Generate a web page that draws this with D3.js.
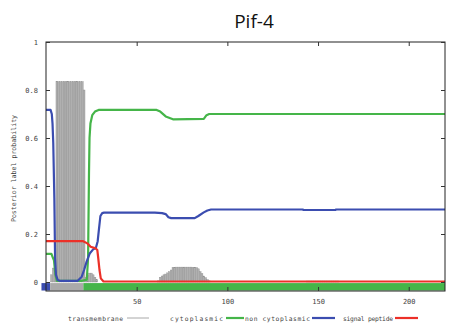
<!DOCTYPE html>
<html>
<head>
<meta charset="utf-8">
<script src="https://cdn.jsdelivr.net/npm/d3@7/dist/d3.min.js"></script>
<style>
  html, body { margin: 0; padding: 0; background: #fff; }
  svg { display: block; }
</style>
</head>
<body>
<svg id="chart" width="449" height="325"></svg>
<script>
// Phobius posterior label probabilities for Pif-4

const title = "Pif-4";

// Transmembrane: per-residue impulse heights (residues not listed are 0)
const tmResidue = [3, 4, 5, 6, 7, 8, 9, 10, 11, 12, 13, 14, 15, 16, 17, 18, 19, 20, 21,
  22, 23, 24, 25, 26, 27, 28,
  62, 63, 64, 65, 66, 67, 68, 69, 70, 71, 72, 73, 74, 75, 76, 77, 78, 79, 80, 81, 82, 83,
  84, 85, 86, 87, 88, 89, 90,
  144, 145, 146, 147, 148, 149, 150, 151, 152, 153, 154, 155, 156, 157, 158, 159, 160, 161];
const tmValue = [0.03, 0.058, 0.06, 0.835, 0.835, 0.835, 0.835, 0.835, 0.835, 0.835, 0.835,
  0.835, 0.835, 0.835, 0.835, 0.835, 0.835, 0.835, 0.80,
  0.02, 0.03, 0.037, 0.037, 0.03, 0.02, 0.01,
  0.005, 0.02, 0.025, 0.03, 0.033, 0.038, 0.043, 0.05, 0.061, 0.061, 0.062, 0.062, 0.062,
  0.062, 0.062, 0.062, 0.062, 0.062, 0.062, 0.061, 0.061, 0.06,
  0.055, 0.043, 0.035, 0.025, 0.018, 0.01, 0.005,
  0.004, 0.004, 0.004, 0.004, 0.004, 0.004, 0.004, 0.004, 0.004, 0.004, 0.004, 0.004,
  0.004, 0.004, 0.004, 0.004, 0.004, 0.004];

// Green curve (legend: cytoplasmic)
const cytoX = [0, 3, 3.6, 4.4, 5.2, 6, 20, 22.5, 23.2, 23.7, 24, 24.5, 25.5, 27, 29,
  61, 63, 66, 70, 87, 88.5, 90, 220];
const cytoY = [0.117, 0.117, 0.105, 0.09, 0.03, 0.005, 0.005, 0.01, 0.1, 0.45, 0.6, 0.66,
  0.695, 0.71, 0.717, 0.717, 0.71, 0.69, 0.678, 0.68, 0.695, 0.70, 0.70];

// Blue curve (legend: non cytoplasmic)
const nonCytoX = [0, 2.5, 3.2, 3.6, 4.0, 4.6, 5.0, 5.5, 6.5, 7.5, 17.5, 19.7, 21, 22.4,
  24.2, 26, 27.5, 28.5, 29.2, 30, 31, 32, 60, 64, 66, 67.5, 69, 82, 84, 87, 89, 91,
  141.5, 142, 159.5, 160, 220];
const nonCytoY = [0.717, 0.717, 0.70, 0.66, 0.58, 0.35, 0.1, 0.03, 0.008, 0.005, 0.005,
  0.022, 0.05, 0.085, 0.12, 0.136, 0.142, 0.17, 0.22, 0.275, 0.287, 0.289, 0.289, 0.287,
  0.283, 0.27, 0.266, 0.266, 0.275, 0.29, 0.298, 0.302, 0.302, 0.3, 0.3, 0.302, 0.302];

// Red curve (legend: signal peptide)
const signalX = [0, 20.5, 22.8, 24.6, 27.4, 28.3, 28.8, 29.5, 30.2, 31.7, 220];
const signalY = [0.17, 0.17, 0.161, 0.147, 0.14, 0.133, 0.1, 0.05, 0.015, 0.002, 0.002];

// Predicted topology strip below the axis
const stripStart = [-2.5, 2.3, 20.6];
const stripEnd = [2.3, 20.6, 220];
const stripState = ["non cytoplasmic", "transmembrane", "cytoplasmic"];

const xTicks = [50, 100, 150, 200];
const yTicks = [0, 0.2, 0.4, 0.6, 0.8, 1];
const legendLabels = ["transmembrane", "cytoplasmic", "non cytoplasmic", "signal peptide"];

const colors = {
  "transmembrane": "#a8a8a8",
  "cytoplasmic": "#45b549",
  "non cytoplasmic": "#3b4db0",
  "signal peptide": "#ec3028"
};

const svg = d3.select("#chart");
const plotLeft = 46, plotRight = 445, plotTop = 42, plotBottom = 291;

const x = d3.scaleLinear().domain([0, 220]).range([plotLeft, plotRight]);
const y = d3.scaleLinear().domain([-0.0375, 1]).range([plotBottom, plotTop]);

const monoFont = "'DejaVu Sans Mono', 'Liberation Mono', monospace";
const textColor = "#444";

// Title
svg.append("text")
  .attr("x", 254).attr("y", 28)
  .attr("text-anchor", "middle")
  .attr("font-family", "'Open Sans', 'Noto Sans', sans-serif")
  .attr("font-size", 19)
  .attr("fill", "#111")
  .text(title);

const plot = svg.append("g");

// Transmembrane impulses
const barW = x(1) - x(0);
plot.append("g").selectAll("rect")
  .data(tmResidue.map((r, i) => ({ r, v: tmValue[i] })))
  .join("rect")
  .attr("x", d => x(d.r) - barW / 2)
  .attr("width", barW)
  .attr("y", d => y(d.v))
  .attr("height", d => y(0) - y(d.v))
  .attr("fill", "#b0b0b0")
  .attr("stroke", "#8f8f8f")
  .attr("stroke-width", 0.4);

// Topology strip
plot.append("g").selectAll("rect")
  .data(stripState.map((s, i) => ({ s, a: stripStart[i], b: stripEnd[i] })))
  .join("rect")
  .attr("x", d => x(d.a))
  .attr("width", d => x(d.b) - x(d.a))
  .attr("y", y(-0.0045))
  .attr("height", y(-0.0355) - y(-0.0045))
  .attr("fill", d => d.s === "transmembrane" ? "#aaaaaa" : colors[d.s]);

// Probability curves
const line = d3.line().x(d => x(d[0])).y(d => y(d[1]));
const curves = [
  ["cytoplasmic", cytoX, cytoY],
  ["non cytoplasmic", nonCytoX, nonCytoY],
  ["signal peptide", signalX, signalY]
];
curves.forEach(([name, xs, ys]) => {
  plot.append("path")
    .datum(xs.map((v, i) => [v, ys[i]]))
    .attr("d", line)
    .attr("fill", "none")
    .attr("stroke", colors[name])
    .attr("stroke-width", 2.2)
    .attr("stroke-linejoin", "round");
});

// Frame
svg.append("rect")
  .attr("x", plotLeft).attr("y", plotTop)
  .attr("width", plotRight - plotLeft).attr("height", plotBottom - plotTop)
  .attr("fill", "none").attr("stroke", "#222").attr("stroke-width", 1);

// Axes with inward ticks, mirrored on the opposite side
const tickLen = 4;
const axisBottom = d3.axisBottom(x).tickValues(xTicks).tickSize(-tickLen).tickPadding(8);
const axisTop = d3.axisTop(x).tickValues(xTicks).tickSize(-tickLen).tickFormat("");
const axisLeft = d3.axisLeft(y).tickValues(yTicks).tickSize(-tickLen).tickPadding(8)
  .tickFormat(d => d === 0 ? "0" : d === 1 ? "1" : d3.format(".1f")(d));
const axisRight = d3.axisRight(y).tickValues(yTicks).tickSize(-tickLen).tickFormat("");

function styleAxis(g) {
  g.select(".domain").remove();
  g.selectAll(".tick line").attr("stroke", "#333");
  g.selectAll(".tick text")
    .attr("font-family", monoFont)
    .attr("font-size", 7)
    .attr("fill", textColor);
}
svg.append("g").attr("transform", `translate(0,${plotBottom})`).call(axisBottom).call(styleAxis);
svg.append("g").attr("transform", `translate(0,${plotTop})`).call(axisTop).call(styleAxis);
svg.append("g").attr("transform", `translate(${plotLeft},0)`).call(axisLeft).call(styleAxis);
svg.append("g").attr("transform", `translate(${plotRight},0)`).call(axisRight).call(styleAxis);

// Y axis title
svg.append("text")
  .attr("transform", `translate(16,${(plotTop + plotBottom) / 2 + 2}) rotate(-90)`)
  .attr("text-anchor", "middle")
  .attr("font-family", monoFont)
  .attr("font-size", 6.6)
  .attr("fill", textColor)
  .text("Posterior label probability");

// Legend: label start, label width, sample start, sample length
const legendTextX = [68, 170, 245, 343];
const legendTextW = [55, 53, 65, 50];
const legendLineStart = [127, 226, 312, 395];
const legendLineLen = [22, 18, 23, 23];
const legendY = 318;
const legend = svg.append("g");
legendLabels.forEach((lab, i) => {
  legend.append("text")
    .attr("x", legendTextX[i])
    .attr("y", legendY + 2.5)
    .attr("textLength", legendTextW[i])
    .attr("lengthAdjust", "spacing")
    .attr("font-family", monoFont)
    .attr("font-size", 6.3)
    .attr("fill", textColor)
    .text(lab);
  legend.append("line")
    .attr("x1", legendLineStart[i])
    .attr("x2", legendLineStart[i] + legendLineLen[i])
    .attr("y1", legendY).attr("y2", legendY)
    .attr("stroke", colors[lab])
    .attr("stroke-width", lab === "transmembrane" ? 1 : 2.2);
});
</script>
</body>
</html>
